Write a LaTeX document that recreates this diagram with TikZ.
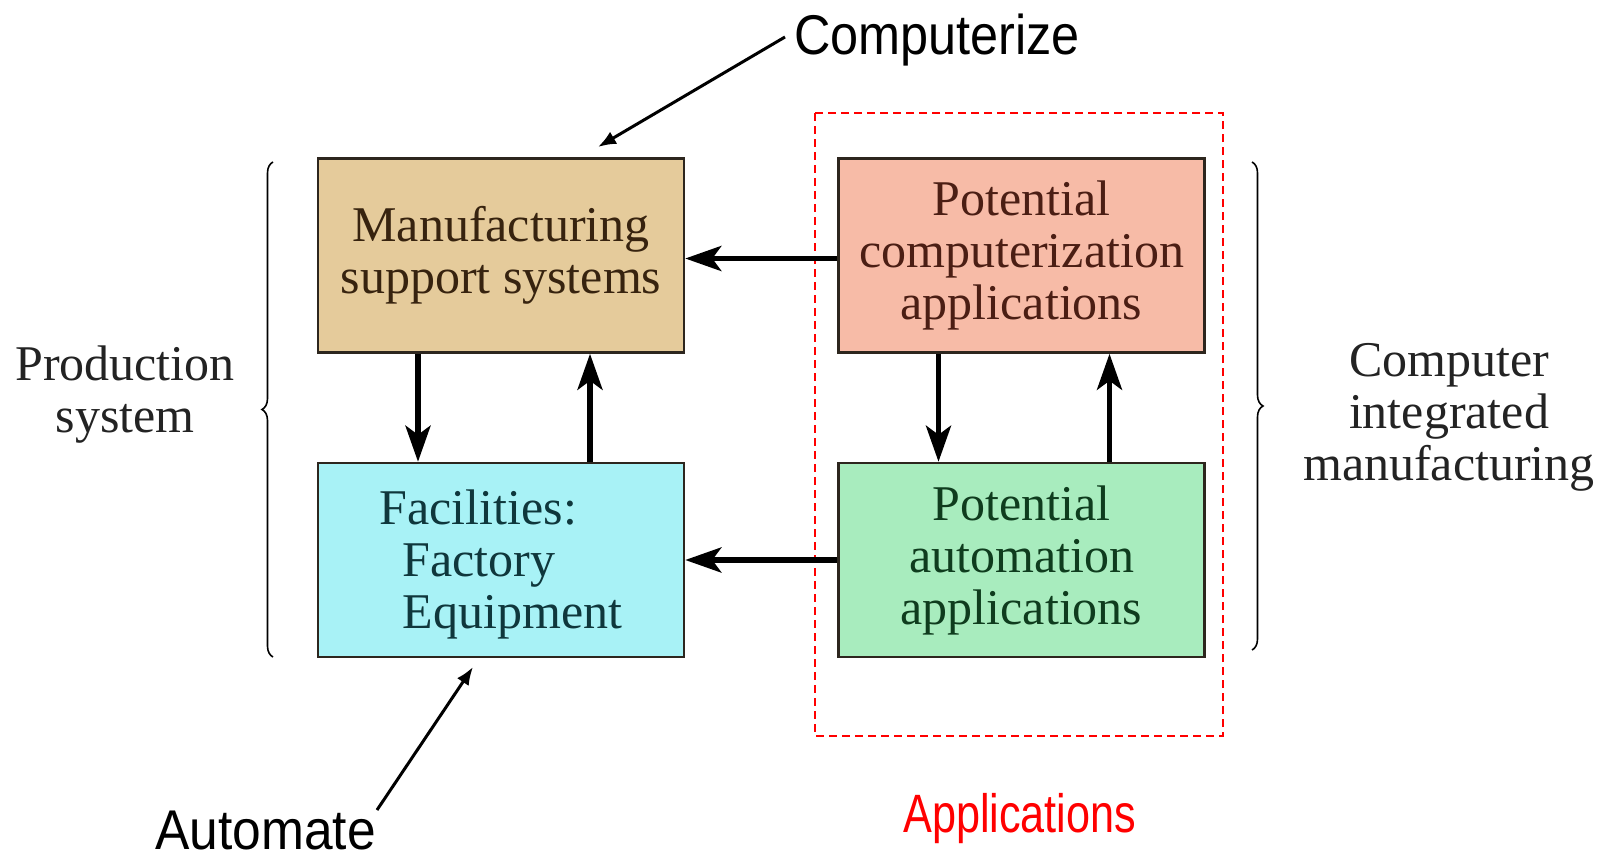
\documentclass[tikz,border=0pt]{standalone}
\usepackage{fontspec}
\usepackage{graphicx}
\setmainfont{Liberation Serif}
\newfontfamily\sansf{Liberation Sans}
\usetikzlibrary{arrows.meta,decorations.pathreplacing}
\definecolor{tanfill}{RGB}{229,203,155}
\definecolor{salmonfill}{RGB}{247,187,167}
\definecolor{cyanfill}{RGB}{168,242,246}
\definecolor{greenfill}{RGB}{168,236,190}
\definecolor{boxline}{RGB}{45,38,30}
\definecolor{tantext}{RGB}{55,35,15}
\definecolor{salmontext}{RGB}{75,30,20}
\definecolor{cyantext}{RGB}{15,55,60}
\definecolor{greentext}{RGB}{15,60,30}
\definecolor{labeltext}{RGB}{35,35,35}
\definecolor{appred}{RGB}{255,0,0}
\tikzset{
  sysbox/.style={draw=boxline, line width=2.5pt, inner sep=0pt, minimum width=366pt, minimum height=194pt, align=center, font=\fontsize{50}{52}\selectfont},
  flowarr/.style={line width=5.5pt, -{Stealth[length=36pt,width=25pt,inset=9pt]}},
  callarr/.style={line width=3pt, -{Latex[length=18pt,width=14pt]}},
  sidelabel/.style={align=center, text=labeltext, font=\fontsize{50}{52}\selectfont},
  bracestyle/.style={line width=1.6pt, decorate, decoration={brace, amplitude=11pt, aspect=0.5}},
  bigsans/.style={inner sep=0pt, font=\sansf\fontsize{56}{60}\selectfont}
}
\begin{document}
\begin{tikzpicture}[x=1pt,y=-1pt]
\useasboundingbox (0,0) rectangle (1607,859);
% boxes
\node[sysbox, fill=tanfill, text=tantext] (mss) at (501,255.5) {Manufacturing\\support systems};
\node[sysbox, fill=salmonfill, text=salmontext] (pca) at (1021.5,255.5) {Potential\\computerization\\applications};
\node[sysbox, fill=cyanfill, text=cyantext, align=left] (fac) at (501,560) {\rule{0pt}{44pt}Facilities:\\\hspace*{23pt}Factory\\\hspace*{23pt}Equipment};
\node[sysbox, fill=greenfill, text=greentext] (paa) at (1021.5,560) {Potential\\automation\\applications};
% dashed applications frame
\draw[appred, line width=2pt, dash pattern=on 8pt off 5pt] (815,113) rectangle (1223,736);
% flow arrows
\draw[flowarr] ([yshift=-3pt]pca.west) -- ([yshift=-3pt]mss.east);
\draw[flowarr] (paa.west) -- (fac.east |- paa.west);
\draw[flowarr] ([xshift=-83pt]mss.south) -- ([xshift=-83pt]mss.south |- fac.north);
\draw[flowarr] ([xshift=89pt]fac.north) -- ([xshift=89pt]fac.north |- mss.south);
\draw[flowarr] ([xshift=-83pt]pca.south) -- ([xshift=-83pt]pca.south |- paa.north);
\draw[flowarr] ([xshift=88pt]paa.north) -- ([xshift=88pt]paa.north |- pca.south);
% braces
\coordinate (lbtop) at (273,162);
\coordinate (lbbot) at (273,657);
\coordinate (rbtop) at (1252,162);
\coordinate (rbbot) at (1252,650);
\draw[bracestyle] (lbbot) -- (lbtop);
\draw[bracestyle] (rbtop) -- (rbbot);
% side labels
\node[sidelabel] (prod) at (125,394.5) {Production\\system};
\node[sidelabel] (cim) at (1449,417) {Computer\\integrated\\manufacturing};
% callouts
\node[bigsans, anchor=base west] (comp) at (794,55) {\scalebox{0.9}[1]{Computerize}};
\node[bigsans, anchor=base west] (auto) at (155,849) {\scalebox{0.92}[1]{Automate}};
\node[inner sep=0pt, anchor=base west, text=appred, font=\sansf\fontsize{54}{58}\selectfont] (appl) at (903,832) {\scalebox{0.8}[1]{Applications}};
\coordinate (compfrom) at (785,37);
\coordinate (compto) at (598,147);
\coordinate (autofrom) at (377,810);
\coordinate (autoto) at (473,667);
\draw[callarr] (compfrom) -- (compto);
\draw[callarr] (autofrom) -- (autoto);
\end{tikzpicture}
\end{document}
